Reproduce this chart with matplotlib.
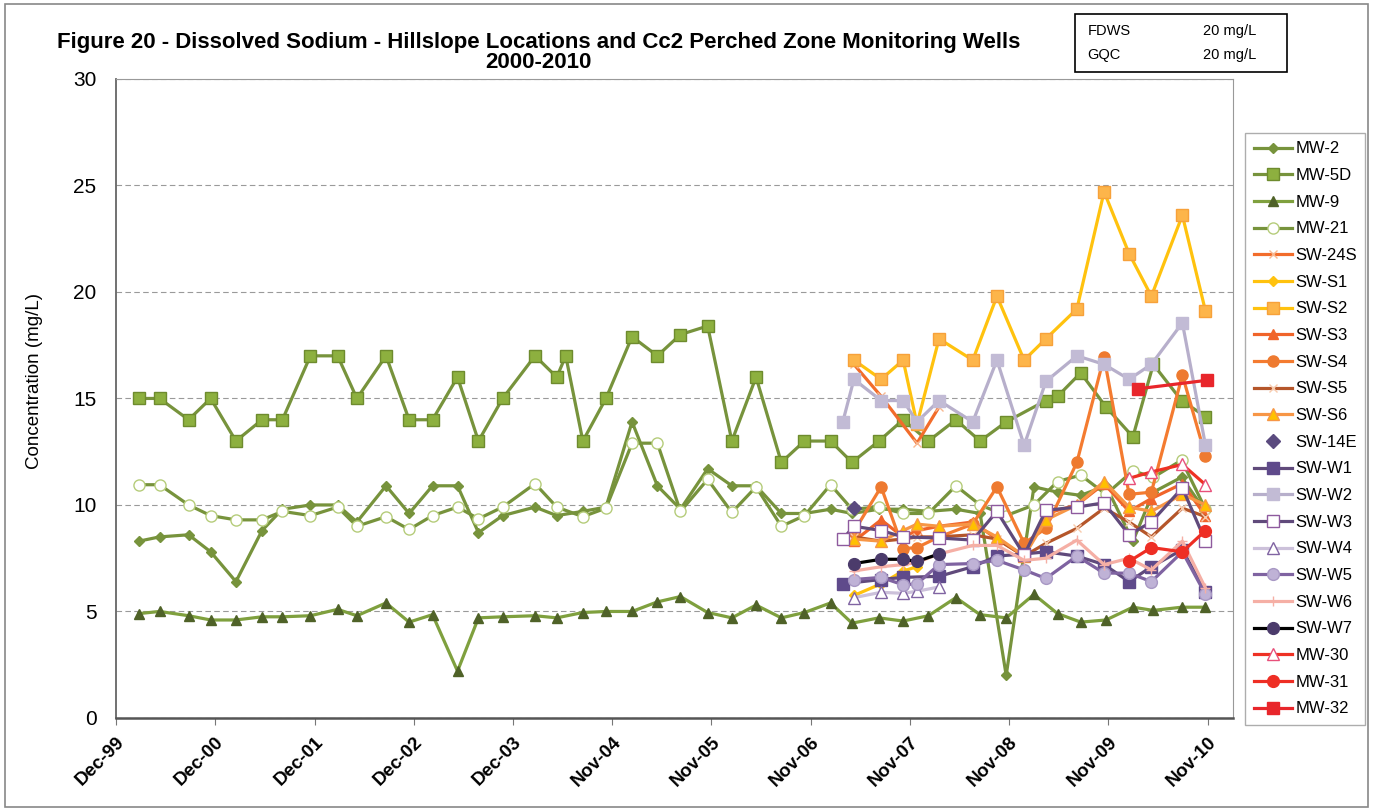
import matplotlib
matplotlib.use("Agg")
import matplotlib.pyplot as plt
import matplotlib.dates as mdates
from matplotlib import font_manager
from matplotlib.patches import Rectangle
import numpy as np
import pandas as pd

installed = {f.name for f in font_manager.fontManager.ttflist}
narrow = 'Liberation Sans Narrow' if 'Liberation Sans Narrow' in installed else 'Liberation Sans'
plt.rcParams['font.family'] = ['Liberation Sans', 'DejaVu Sans']

# ---- data (mg/L) ----
# sampling dates for the older hillslope wells
green_dates = ['2000-02-24', '2000-05-10', '2000-08-25', '2000-11-14', '2001-02-15', '2001-05-22',
               '2001-08-05', '2001-11-16', '2002-02-24', '2002-05-06', '2002-08-21', '2002-11-14',
               '2003-02-08', '2003-05-11', '2003-07-27', '2003-10-24', '2004-02-20', '2004-05-10',
               '2004-06-12', '2004-08-14', '2004-11-07', '2005-02-11', '2005-05-15', '2005-08-08',
               '2005-11-16', '2006-02-13', '2006-05-13', '2006-08-14', '2006-11-07', '2007-02-11',
               '2007-05-01', '2007-08-08', '2007-11-05', '2008-02-06', '2008-05-17', '2008-08-14',
               '2008-11-18', '2009-02-28', '2009-04-13', '2009-05-26', '2009-08-19', '2009-11-20',
               '2010-02-27', '2010-05-13', '2010-08-25', '2010-11-21']
mw2 = [8.3, 8.5, 8.6, 7.8, 6.4, 8.8, 9.8, 10.0, 10.0, 9.2, 10.9, 9.6,
       10.9, 10.9, 8.7, 9.5, 9.9, 9.5, None, 9.7, 9.9, 13.9, 10.9, 9.8,
       11.7, 10.9, 10.9, 9.6, 9.6, 9.8, 9.6, 9.8, 9.8, 9.7, 9.8, 9.6,
       2.0, 10.85, None, 10.6, 10.45, 10.9, 8.3, 10.6, 11.3, 9.7]
mw5d = [15, 15, 14, 15, 13, 14, 14, 17, 17, 15, 17, 14,
        14, 16, 13, 15, 17, 16, 17, 13, 15, 17.9, 17, 18,
        18.4, 13, 16, 12, 13, 13, 12, 13, 14, 13, 14, 13,
        13.9, None, 14.9, 15.1, 16.2, 14.6, 13.2, 16.6, 14.9, 14.15]
mw9 = [4.9, 5.0, 4.8, 4.6, 4.6, 4.75, 4.75, 4.8, 5.1, 4.8, 5.4, 4.5,
       4.85, 2.2, 4.7, 4.75, 4.8, 4.7, None, 4.95, 5.0, 5.0, 5.45, 5.7,
       4.95, 4.7, 5.3, 4.7, 4.95, 5.4, 4.45, 4.7, 4.55, 4.8, 5.65, 4.85,
       4.7, 5.8, None, 4.9, 4.5, 4.6, 5.2, 5.05, 5.2, 5.2]
mw21 = [10.95, 10.95, 10.0, 9.5, 9.3, 9.3, 9.7, 9.5, 9.9, 9.0, 9.45, 8.85,
        9.5, 9.9, 9.35, 9.9, 11.0, 9.9, None, 9.45, 9.85, 12.9, 12.9, 9.7,
        11.2, 9.65, 10.85, 9.0, 9.5, 10.95, 9.8, 9.9, 9.6, 9.6, 10.9, 10.0,
        9.5, 10.0, None, 11.1, 11.4, 10.5, 11.6, 11.3, 12.1, 9.8]

# sampling dates for the springs / seeps and newer wells
sw_dates = ['2007-03-28', '2007-05-08', '2007-08-16', '2007-11-05', '2007-12-26', '2008-03-16',
            '2008-07-18', '2008-10-15', '2009-01-23', '2009-04-13', '2009-08-05', '2009-11-13',
            '2010-02-13', '2010-05-06', '2010-08-28', '2010-11-21']
sw_24s = [None, 16.6, 15.1, None, 12.9, 14.6, None, None, None, None, None, None, None, None, None, None]
sw_s1 = [None, 5.75, 6.3, 6.9, 7.1, None, None, None, None, None, None, None, None, None, None, None]
sw_s2 = [None, 16.8, 15.9, 16.8, 13.8, 17.8, 16.8, 19.8, 16.8, 17.8, 19.2, 24.7, 21.8, 19.8, 23.6, 19.1]
sw_s3 = [None, 8.3, 9.3, 8.5, 8.8, 9.0, 9.2, 8.4, 7.6, 9.6, 10.0, 11.0, 9.7, 10.3, 11.0, 9.5]
sw_s4 = [None, 8.75, 10.85, 7.95, 8.0, 8.5, 9.1, 10.85, 8.2, 8.9, 12.0, 16.95, 10.5, 10.6, 16.1, 12.3]
sw_s5 = [None, 8.5, 8.3, 8.4, 8.5, 8.5, 8.6, 8.4, 7.6, 8.2, 8.9, 9.85, 9.2, 8.5, 9.85, 9.45]
sw_s6 = [None, 8.4, 8.3, 8.8, 9.1, 9.0, 9.1, 8.5, 7.6, 9.3, 10.0, 11.1, 9.9, 9.7, 10.5, 10.0]
sw_14e = [None, 9.85, None, None, None, None, None, None, None, None, None, None, None, None, None, None]
sw_w1 = [6.3, None, 6.5, 6.6, None, 6.65, 7.1, 7.6, 7.7, 7.8, 7.6, 7.2, 6.4, 7.1, 7.9, 5.9]
sw_w2 = [13.9, 15.9, 14.9, 14.9, 13.9, 14.9, 13.9, 16.8, 12.8, 15.8, 17.0, 16.6, 15.9, 16.6, 18.55, 12.8]
sw_w3 = [8.4, 9.0, 8.8, 8.5, None, 8.45, 8.35, 9.7, 7.65, 9.75, 9.9, 10.1, 8.6, 9.2, 10.8, 8.3]
sw_w4 = [None, 5.65, 5.9, 5.85, 5.95, 6.15, None, None, None, None, None, None, None, None, None, None]
sw_w5 = [None, 6.5, 6.6, 6.25, 6.3, 7.2, 7.25, 7.4, 6.95, 6.55, 7.6, 6.8, 6.8, 6.4, 7.8, 5.8]
sw_w6 = [None, 6.9, 7.1, 7.2, 7.3, 7.7, 8.1, 8.1, 7.4, 7.5, 8.35, 7.2, 7.5, 6.95, 8.3, 6.1]
sw_w7 = [None, 7.25, 7.45, 7.45, 7.35, 7.7, None, None, None, None, None, None, None, None, None, None]
mw30 = [None, None, None, None, None, None, None, None, None, None, None, None, 11.25, 11.55, 11.9, 10.95]
mw31 = [None, None, None, None, None, None, None, None, None, None, None, None, 7.35, 8.0, 7.8, 8.8]
mw32_dates = ['2010-03-16', '2010-11-25']
mw32 = [15.45, 15.85]

tick_start = '1999-12-02'   # excel date axis, major unit 365 days
n_ticks = 12
axis_end_days = 4108

series = [
    ('MW-2', green_dates, mw2, dict(color='#77933C', marker='D', ms=5.5, mfc='#77933C', mec='#77933C')),
    ('MW-5D', green_dates, mw5d, dict(color='#77933C', marker='s', ms=9, mfc='#8DB03F', mec='#6E8B2E')),
    ('MW-9', green_dates, mw9, dict(color='#7FA03E', marker='^', ms=7.5, mfc='#4F6228', mec='#4F6228')),
    ('MW-21', green_dates, mw21, dict(color='#77933C', marker='o', ms=8, mfc='white', mec='#B5CC7A')),
    ('SW-24S', sw_dates, sw_24s, dict(color='#F26C2B', marker='x', ms=6, mec='#F8B890')),
    ('SW-S1', sw_dates, sw_s1, dict(color='#FFC20E', marker='D', ms=5, mfc='#FFC20E', mec='#FFC20E')),
    ('SW-S2', sw_dates, sw_s2, dict(color='#FFC20E', marker='s', ms=9, mfc='#FDB54A', mec='#F7A13A')),
    ('SW-S3', sw_dates, sw_s3, dict(color='#F0642A', marker='^', ms=7.5, mfc='#F0642A', mec='#F0642A')),
    ('SW-S4', sw_dates, sw_s4, dict(color='#F47B30', marker='o', ms=8, mfc='#EE7A30', mec='#EE7A30')),
    ('SW-S5', sw_dates, sw_s5, dict(color='#B5562A', marker='x', ms=6, mec='#F8CBAD')),
    ('SW-S6', sw_dates, sw_s6, dict(color='#F79646', marker='^', ms=8, mfc='#FFC000', mec='#F79646')),
    ('SW-14E', sw_dates, sw_14e, dict(color='#5B4B7F', ls='none', marker='D', ms=7, mfc='#5B4B7F', mec='#5B4B7F')),
    ('SW-W1', sw_dates, sw_w1, dict(color='#604A7B', marker='s', ms=8.5, mfc='#5F4A8B', mec='#5F4A8B')),
    ('SW-W2', sw_dates, sw_w2, dict(color='#B7AFCB', marker='s', ms=8.5, mfc='#C2BBD5', mec='#C2BBD5')),
    ('SW-W3', sw_dates, sw_w3, dict(color='#604A7B', marker='s', ms=8.5, mfc='white', mec='#8E5A9E')),
    ('SW-W4', sw_dates, sw_w4, dict(color='#CCC1DA', marker='^', ms=8.5, mfc='white', mec='#8064A2')),
    ('SW-W5', sw_dates, sw_w5, dict(color='#7F63A1', marker='o', ms=8.5, mfc='#BFB2D6', mec='#A898C4')),
    ('SW-W6', sw_dates, sw_w6, dict(color='#F5AFA5', marker='+', ms=7, mec='#F5AFA5')),
    ('SW-W7', sw_dates, sw_w7, dict(color='black', marker='o', ms=8.5, mfc='#4B3B6B', mec='#4B3B6B')),
    ('MW-30', sw_dates, mw30, dict(color='#EE3124', marker='^', ms=8.5, mfc='white', mec='#E8507A')),
    ('MW-31', sw_dates, mw31, dict(color='#EE2E24', marker='o', ms=8.5, mfc='#EE2E24', mec='#EE2E24')),
    ('MW-32', mw32_dates, mw32, dict(color='#E8262B', marker='s', ms=8.5, mfc='#E8262B', mec='#E8262B')),
]

fig = plt.figure(figsize=(13.73, 8.11), dpi=100)
ax = fig.add_axes([0.0845, 0.1147, 0.8135, 0.788])

handles = []
for name, dts, vals, style in series:
    pts = [(pd.Timestamp(d), v) for d, v in zip(dts, vals) if v is not None]
    xs = mdates.date2num([p[0] for p in pts])
    ys = [p[1] for p in pts]
    kw = dict(lw=2.3)
    kw.update(style)
    h, = ax.plot(xs, ys, label=name, **kw)
    handles.append(h)

# axes
x0 = mdates.datestr2num(tick_start)
ax.set_xlim(x0, x0 + axis_end_days)
ax.set_xticks(x0 + 365 * np.arange(n_ticks))
ax.xaxis.set_major_formatter(mdates.DateFormatter('%b-%y'))
ax.set_ylim(0, 30)
ax.set_yticks(np.arange(0, 31, 5))
ax.yaxis.grid(True, color='#9A9A9A', linestyle=(0, (5, 3)), linewidth=0.8)
ax.set_axisbelow(True)
for lab in ax.get_xticklabels():
    lab.set_rotation(45)
    lab.set_ha('right')
    lab.set_rotation_mode('anchor')
    lab.set_fontsize(13.5)
    lab.set_family([narrow, 'DejaVu Sans'])
    lab.set_weight('bold')
for lab in ax.get_yticklabels():
    lab.set_fontsize(15)
    lab.set_family([narrow, 'DejaVu Sans'])
ax.tick_params(axis='x', direction='out', length=5, pad=6, color='#777777')
ax.tick_params(axis='y', length=0, pad=14)
ax.spines['left'].set_color('#666666')
ax.spines['bottom'].set_color('#555555')
ax.spines['bottom'].set_linewidth(1.8)
ax.spines['left'].set_linewidth(1.3)
ax.spines['top'].set_color('#999999')
ax.spines['right'].set_color('#999999')

fig.text(0.025, 0.53, 'Concentration (mg/L)', rotation=90, ha='center', va='center', fontsize=13.5)

# title
fig.text(0.392, 0.948, 'Figure 20 - Dissolved Sodium - Hillslope Locations and Cc2 Perched Zone Monitoring Wells',
         ha='center', va='center', fontsize=16, weight='bold', family=[narrow, 'DejaVu Sans'])
fig.text(0.392, 0.923, '2000-2010', ha='center', va='center', fontsize=16, weight='bold',
         family=[narrow, 'DejaVu Sans'])

# standards box
fig.patches.append(Rectangle((0.783, 0.911), 0.154, 0.072, transform=fig.transFigure,
                             fill=False, edgecolor='black', linewidth=1.2))
for yy, name in [(0.962, 'FDWS'), (0.932, 'GQC')]:
    fig.text(0.792, yy, name, ha='left', va='center', fontsize=10.5)
    fig.text(0.876, yy, '20 mg/L', ha='left', va='center', fontsize=10.5)

# outer chart border
fig.patches.append(Rectangle((0.004, 0.005), 0.992, 0.99, transform=fig.transFigure,
                             fill=False, edgecolor='#888888', linewidth=1.2))

leg = fig.legend(handles, [s[0] for s in series], loc='upper left',
                 bbox_to_anchor=(0.907, 0.836), fontsize=12, frameon=True, fancybox=False,
                 handlelength=2.3, labelspacing=0.70, borderpad=0.5, handletextpad=0.2,
                 borderaxespad=0.0)
leg.get_frame().set_edgecolor('#999999')
leg.get_frame().set_linewidth(1.0)

fig.savefig('out.png', dpi=100)
